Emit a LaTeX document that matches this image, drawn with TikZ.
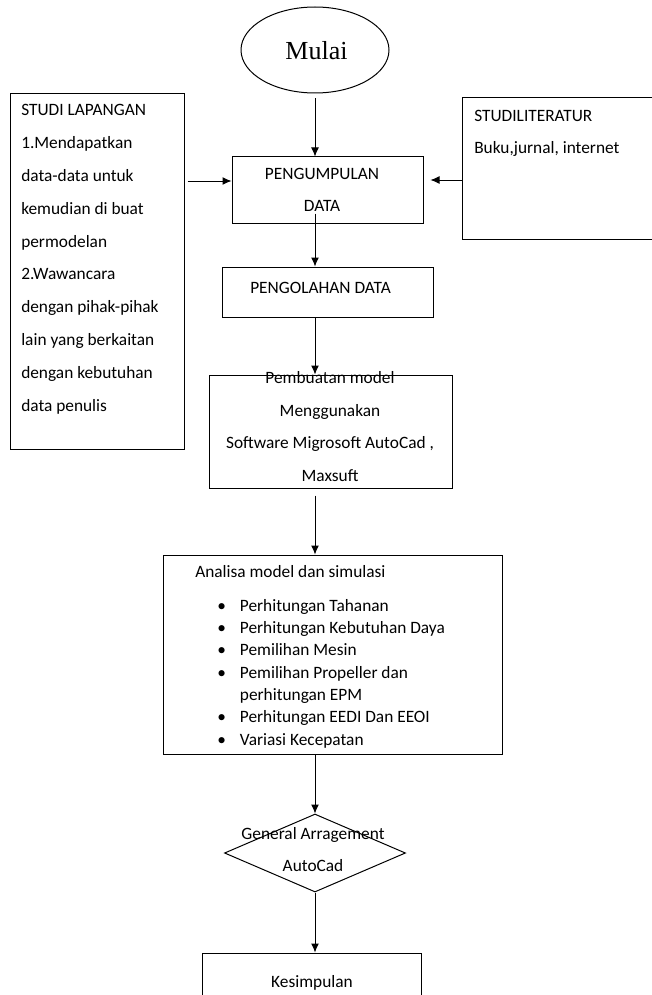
\documentclass[tikz,border=0pt]{standalone}
\usepackage{fontspec}
\setmainfont{Carlito}
\newfontfamily\serifmulai{Liberation Serif}
\usetikzlibrary{shapes.geometric,arrows.meta}
\newlength\upx
\setlength\upx{0.75pt}
\tikzset{
  kotak/.style={draw, rectangle, inner sep=0pt, line width=1\upx},
  teks/.style={inner sep=0pt, font=\fontsize{13}{24.5}\selectfont},
  panah/.style={-{Latex[length=6.75pt,width=6pt]}, line width=0.75pt},
}
\begin{document}
\begin{tikzpicture}[x=1\upx, y=-1\upx]
		\useasboundingbox (0,0) rectangle (651,995);
		% Start ellipse
		\node[draw, ellipse, line width=1\upx, inner sep=0pt, minimum width=148\upx, minimum height=86\upx] (mulai) at (315,50) {};
		\node[inner sep=0pt, anchor=base, font=\serifmulai\fontsize{19.5}{23}\selectfont] (tMulai) at (316.5,60) {Mulai};
		% Boxes of the flow
		\node[kotak, minimum width=174\upx, minimum height=355\upx] (lapangan) at (97,271.5) {};
		\node[kotak, minimum width=198\upx, minimum height=141\upx] (literatur) at (561,168.5) {};
		\node[kotak, minimum width=191\upx, minimum height=66\upx] (kumpul) at (327.5,190) {};
		\node[kotak, minimum width=211\upx, minimum height=50\upx] (olah) at (327.5,292) {};
		\node[kotak, minimum width=243\upx, minimum height=113\upx] (buat) at (330.5,431.5) {};
		\node[kotak, minimum width=339\upx, minimum height=199\upx] (analisa) at (332.5,654.5) {};
		\node[draw, diamond, line width=1\upx, inner sep=0pt, minimum width=181\upx, minimum height=78\upx] (ga) at (315,853) {};
		\node[kotak, minimum width=219\upx, minimum height=52\upx] (simpul) at (311.5,979) {};
		% Texts (multi-line ones sit on their last baseline)
		\node[teks, anchor=base west, align=left, font=\fontsize{13}{24.6}\selectfont] (tLapangan) at (21,411) {STUDI LAPANGAN\\1.Mendapatkan\\data-data untuk\\kemudian di buat\\permodelan\\2.Wawancara\\dengan pihak-pihak\\lain yang berkaitan\\dengan kebutuhan\\data penulis};
		\node[teks, anchor=base west, align=left, font=\fontsize{13}{24}\selectfont] (tLiteratur) at (474,153) {STUDILITERATUR\\Buku,jurnal, internet};
		\node[teks, anchor=base, align=center, font=\fontsize{13}{23.8}\selectfont] (tKumpul) at (322,211) {PENGUMPULAN\\DATA};
		\node[teks, anchor=base] (tOlah) at (320.5,293) {PENGOLAHAN DATA};
		\node[teks, anchor=base, align=center, font=\fontsize{13}{24.4}\selectfont] (tBuat) at (330,481.5) {Pembuatan model\\Menggunakan\\Software Migrosoft AutoCad ,\\Maxsuft};
		\node[teks, anchor=base west] (tAnalisa) at (195,577) {Analisa model dan simulasi};
		\node[teks, anchor=base west, align=left, font=\fontsize{13}{16.75}\selectfont] (tDaftar) at (217,745) {%
			\makebox[17pt][l]{\textbullet}Perhitungan Tahanan\\
			\makebox[17pt][l]{\textbullet}Perhitungan Kebutuhan Daya\\
			\makebox[17pt][l]{\textbullet}Pemilihan Mesin\\
			\makebox[17pt][l]{\textbullet}Pemilihan Propeller dan\\
			\makebox[17pt][l]{}perhitungan EPM\\
			\makebox[17pt][l]{\textbullet}Perhitungan EEDI Dan EEOI\\
			\makebox[17pt][l]{\textbullet}Variasi Kecepatan};
		\node[teks, anchor=base, align=center, font=\fontsize{13}{24}\selectfont] (tGa) at (313,871.5) {General Arragement\\AutoCad};
		\node[teks, anchor=base] (tSimpul) at (312,987) {Kesimpulan};
		% Connectors
		\coordinate (masukKiri) at ([yshift=6.75pt]kumpul.west);
		\coordinate (masukKanan) at ([xshift=5.25pt, yshift=7.5pt]kumpul.east);
		\draw[panah] ([yshift=-3.75pt]mulai.south) -- (mulai.south |- kumpul.north);
		\draw[panah] ([xshift=2.25pt]lapangan.east |- masukKiri) -- (masukKiri);
		\draw[panah] (literatur.west |- masukKanan) -- (masukKanan);
		\draw[panah] ([yshift=7.5pt]kumpul.south -| mulai.south) -- (mulai.south |- olah.north);
		\draw[panah] (olah.south -| mulai.south) -- (mulai.south |- buat.north);
		\draw[panah] ([yshift=-5.25pt]buat.south -| mulai.south) -- (mulai.south |- analisa.north);
		\draw[panah] (analisa.south -| mulai.south) -- (ga.north);
		\draw[panah] (ga.south) -- (ga.south |- simpul.north);
\end{tikzpicture}
\end{document}
